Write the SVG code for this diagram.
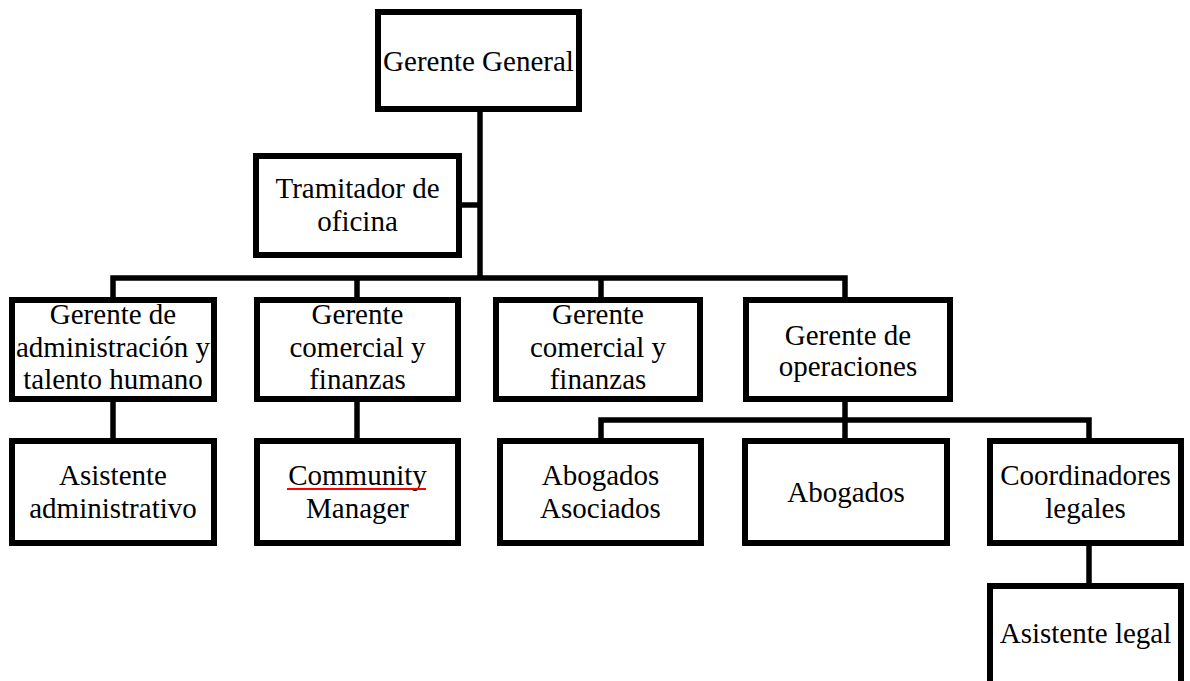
<svg xmlns="http://www.w3.org/2000/svg" width="1190" height="681" viewBox="0 0 1190 681">
  <style>
    .box { fill: #ffffff; stroke: #000000; stroke-width: 6; }
    .wire { fill: none; stroke: #000000; stroke-width: 5.5; stroke-linejoin: miter; stroke-linecap: butt; }
    .lbl { font-family: "Liberation Serif", "Times New Roman", serif; font-size: 29px; fill: #000000; text-anchor: middle; }
    .spell { stroke: #ff0000; stroke-width: 2; }
  </style>

  <!-- connectors -->
  <g id="connectors">
    <!-- trunk from the general manager -->
    <path class="wire" d="M480 112 V278"/>
    <!-- staff branch -->
    <path class="wire" d="M462 205 H480"/>
    <!-- main bus to the four managers -->
    <path class="wire" d="M113 297 V278 H845 V297"/>
    <path class="wire" d="M357 278 V297"/>
    <path class="wire" d="M601 278 V297"/>
    <!-- first-level children -->
    <path class="wire" d="M113 402 V438"/>
    <path class="wire" d="M357 402 V438"/>
    <!-- operations bus -->
    <path class="wire" d="M845 402 V438"/>
    <path class="wire" d="M601 438 V420 H1089 V438"/>
    <!-- legal coordinators to legal assistant -->
    <path class="wire" d="M1089 546 V583"/>
  </g>

  <g id="gerente-general">
    <rect class="box" x="378" y="12" width="201" height="97"/>
    <text class="lbl" x="478.5" y="71">Gerente General</text>
  </g>

  <g id="tramitador">
    <rect class="box" x="256" y="156" width="203" height="99"/>
    <text class="lbl" x="357.5" y="198">Tramitador de</text>
    <text class="lbl" x="357.5" y="231">oficina</text>
  </g>

  <g id="gerente-administracion">
    <rect class="box" x="12" y="300" width="202" height="99"/>
    <text class="lbl" x="113" y="324">Gerente de</text>
    <text class="lbl" x="113" y="357">administración y</text>
    <text class="lbl" x="113" y="389">talento humano</text>
  </g>

  <g id="gerente-comercial-1">
    <rect class="box" x="257" y="300" width="201" height="99"/>
    <text class="lbl" x="357.5" y="324">Gerente</text>
    <text class="lbl" x="357.5" y="357">comercial y</text>
    <text class="lbl" x="357.5" y="389">finanzas</text>
  </g>

  <g id="gerente-comercial-2">
    <rect class="box" x="496" y="300" width="204" height="99"/>
    <text class="lbl" x="598" y="324">Gerente</text>
    <text class="lbl" x="598" y="357">comercial y</text>
    <text class="lbl" x="598" y="389">finanzas</text>
  </g>

  <g id="gerente-operaciones">
    <rect class="box" x="746" y="300" width="204" height="99"/>
    <text class="lbl" x="848" y="345">Gerente de</text>
    <text class="lbl" x="848" y="376">operaciones</text>
  </g>

  <g id="asistente-administrativo">
    <rect class="box" x="12" y="441" width="202" height="102"/>
    <text class="lbl" x="113" y="485">Asistente</text>
    <text class="lbl" x="113" y="518">administrativo</text>
  </g>

  <g id="community-manager">
    <rect class="box" x="257" y="441" width="201" height="102"/>
    <text class="lbl" x="357.5" y="485">Community</text>
    <line class="spell" x1="287" y1="489" x2="426" y2="489"/>
    <text class="lbl" x="357.5" y="518">Manager</text>
  </g>

  <g id="abogados-asociados">
    <rect class="box" x="500" y="441" width="201" height="102"/>
    <text class="lbl" x="600.5" y="485">Abogados</text>
    <text class="lbl" x="600.5" y="518">Asociados</text>
  </g>

  <g id="abogados">
    <rect class="box" x="745" y="441" width="202" height="102"/>
    <text class="lbl" x="846" y="502">Abogados</text>
  </g>

  <g id="coordinadores-legales">
    <rect class="box" x="990" y="441" width="191" height="102"/>
    <text class="lbl" x="1085.5" y="485">Coordinadores</text>
    <text class="lbl" x="1085.5" y="518">legales</text>
  </g>

  <g id="asistente-legal">
    <rect class="box" x="990" y="586" width="191" height="120"/>
    <text class="lbl" x="1085.5" y="643">Asistente legal</text>
  </g>
</svg>
